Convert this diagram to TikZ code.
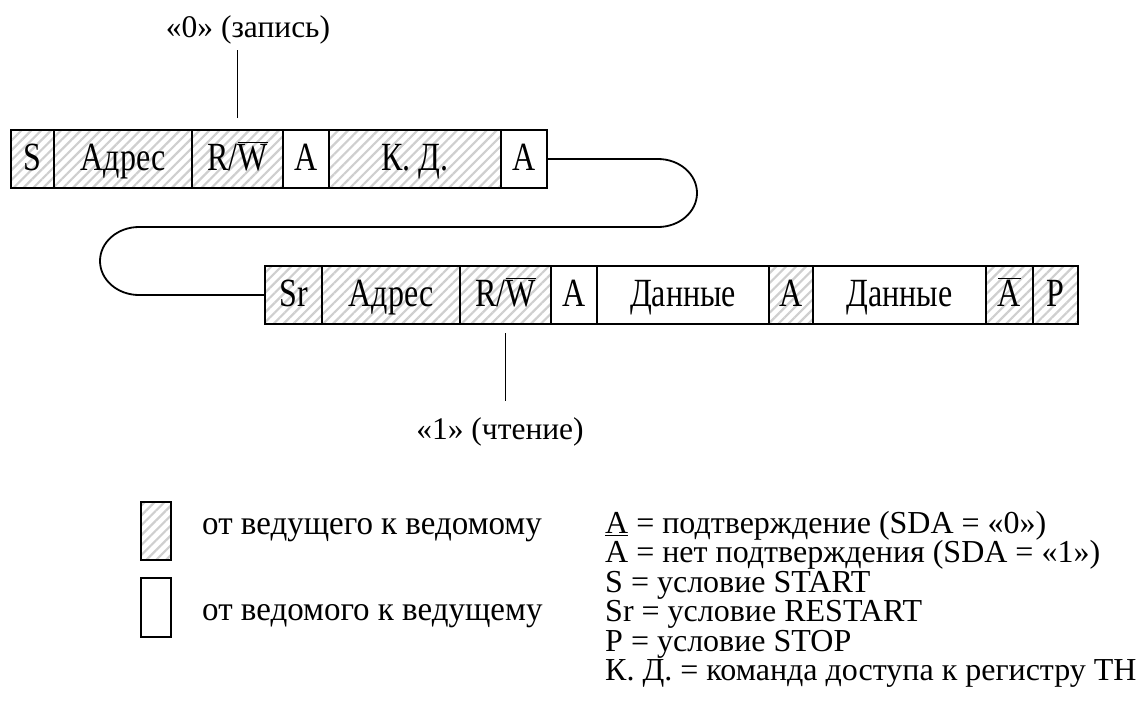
\documentclass[tikz,border=0pt]{standalone}
\usepackage{fontspec}
\setmainfont{Liberation Serif}
\newfontfamily\boxfont[FakeStretch=0.8]{Liberation Serif}
\newfontfamily\legfont[FakeStretch=0.97]{Liberation Serif}
\usetikzlibrary{patterns.meta,calc}
\begin{document}
\begin{tikzpicture}[x=1pt,y=-1pt,
  frame/.style={draw, line width=1.8pt, outer sep=0pt, inner sep=0pt},
  hatchfill/.style={pattern={Lines[angle=45,distance=7pt,line width=2.2pt]}, pattern color=gray!38},
  box/.style={frame, minimum height=58pt, text height=30pt, text depth=8pt,
    font=\boxfont\fontsize{40}{48}\selectfont, anchor=west},
  hatch/.style={box, hatchfill},
  plain/.style={box, fill=white},
  conn/.style={line width=1.8pt},
  lbl/.style={font=\fontsize{31.5}{36}\selectfont, inner sep=0pt, anchor=base},
  legtxt/.style={font=\legfont\fontsize{34}{40}\selectfont, inner sep=0pt, anchor=base west},
  keytxt/.style={font=\fontsize{32}{36}\selectfont, inner sep=0pt, anchor=base west}]
\useasboundingbox (0,0) rectangle (1142,726);

% row 1
\node[hatch, minimum width=43pt] (s1) at (11,159) {S};
\node[hatch, minimum width=138pt] (ad1) at (s1.east) {Адрес};
\node[hatch, minimum width=91pt] (rw1) at (ad1.east) {R/$\overline{\mbox{W}}$};
\node[plain, minimum width=46pt] (a1) at (rw1.east) {A};
\node[hatch, minimum width=172pt] (kd) at (a1.east) {К. Д.};
\node[plain, minimum width=46pt] (a2) at (kd.east) {A};

% row 2
\node[hatch, minimum width=57pt] (sr) at (265,295) {Sr};
\node[hatch, minimum width=138pt] (ad2) at (sr.east) {Адрес};
\node[hatch, minimum width=91pt] (rw2) at (ad2.east) {R/$\overline{\mbox{W}}$};
\node[plain, minimum width=46pt] (a3) at (rw2.east) {A};
\node[plain, minimum width=172pt] (d1) at (a3.east) {Данные};
\node[hatch, minimum width=44pt] (a4) at (d1.east) {A};
\node[plain, minimum width=173pt] (d2) at (a4.east) {Данные};
\node[hatch, minimum width=47pt] (na) at (d2.east) {$\overline{\mbox{A}}$};
\node[hatch, minimum width=45pt] (p) at (na.east) {P};

% connector between rows
\draw[conn] (a2.east) -- ++(111,0)
  arc[start angle=-90, end angle=90, x radius=39, y radius=34]
  -- ++(-519,0)
  arc[start angle=-90, end angle=-270, x radius=39, y radius=34]
  -- (sr.west);

% R/W labels
\coordinate (t0) at ($(rw1.north)+(0,-12)$);
\coordinate (t1) at ($(rw1.north)+(0,-80)$);
\draw[conn] (t0) -- (t1);
\node[lbl] (wlab) at (248,37) {«0» (запись)};

\coordinate (b0) at ($(rw2.south)+(0,9)$);
\coordinate (b1) at ($(rw2.south)+(0,77)$);
\draw[conn] (b0) -- (b1);
\node[lbl] (rlab) at (500,439) {«1» (чтение)};

% legend
\node[frame, hatchfill, minimum width=30pt, minimum height=58pt] (lh) at (156,531) {};
\node[frame, fill=white, minimum width=30pt, minimum height=59pt] (lw) at (156,607.5) {};
\node[legtxt] (lt1) at (202,534) {от ведущего к ведомому};
\node[legtxt] (lt2) at (202,620) {от ведомого к ведущему};

\node[keytxt] (k1) at (605,533.5) {\underline{A} = подтверждение (SDA = «0»)};
\node[keytxt] (k2) at (605,562.9) {A = нет подтверждения (SDA = «1»)};
\node[keytxt] (k3) at (605,592.3) {S = условие START};
\node[keytxt] (k4) at (605,621.7) {Sr = условие RESTART};
\node[keytxt] (k5) at (605,651.1) {P = условие STOP};
\node[keytxt] (k6) at (605,680.5) {К. Д. = команда доступа к регистру TH};
\end{tikzpicture}
\end{document}
